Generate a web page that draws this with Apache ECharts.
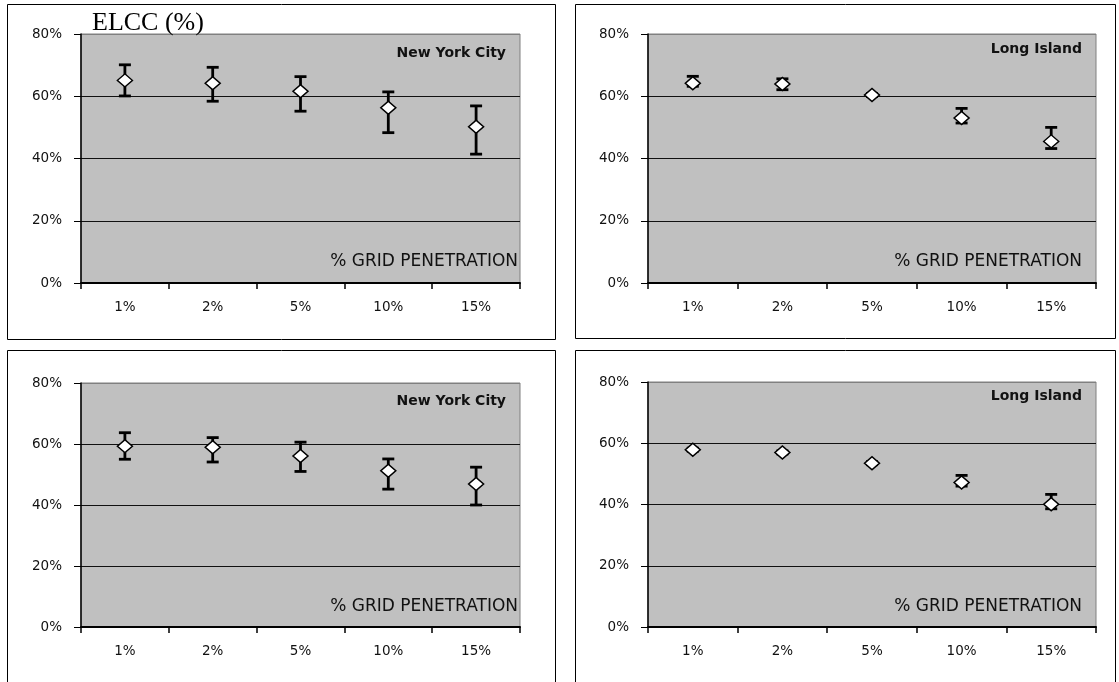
<!DOCTYPE html>
<html>
<head>
<meta charset="utf-8">
<script src="https://cdn.jsdelivr.net/npm/echarts@6/dist/echarts.min.js"></script>
<style>
html,body{margin:0;padding:0;background:#fff;}
#chart{width:1119px;height:682px;}
</style>
</head>
<body>
<div id="chart"></div>
<script>
var categories = ['1%', '2%', '5%', '10%', '15%'];
var yTicks = [0, 20, 40, 60, 80];

var nycTopMean = [65.1, 64.2, 61.6, 56.3, 50.2];
var nycTopLow  = [60.1, 58.4, 55.2, 48.3, 41.4];
var nycTopHigh = [70.1, 69.3, 66.3, 61.4, 56.9];

var liTopMean = [64.2, 63.9, 60.4, 53.0, 45.5];
var liTopLow  = [63.2, 62.1, 59.9, 51.4, 43.2];
var liTopHigh = [66.4, 65.6, 60.9, 56.1, 50.0];

var nycBotMean = [59.3, 58.9, 56.1, 51.2, 46.9];
var nycBotLow  = [55.0, 54.1, 51.0, 45.2, 40.0];
var nycBotHigh = [63.7, 62.1, 60.6, 55.1, 52.4];

var liBotMean = [57.9, 57.0, 53.5, 47.2, 40.1];
var liBotLow  = [57.4, 56.5, 53.0, 46.0, 38.6];
var liBotHigh = [58.4, 57.5, 54.0, 49.5, 43.3];

var panels = [
  {mean: nycTopMean, low: nycTopLow, high: nycTopHigh, name: 'New York City'},
  {mean: liTopMean, low: liTopLow, high: liTopHigh, name: 'Long Island'},
  {mean: nycBotMean, low: nycBotLow, high: nycBotHigh, name: 'New York City'},
  {mean: liBotMean, low: liBotLow, high: liBotHigh, name: 'Long Island'}
];

var gridPos = [
  {left: 81, top: 34, width: 439, height: 249},
  {left: 648, top: 34, width: 448, height: 249},
  {left: 81, top: 383, width: 439, height: 244},
  {left: 648, top: 382, width: 448, height: 245}
];

var FONT = 'DejaVu Sans, Verdana, sans-serif';

var grids = [], xAxes = [], yAxes = [], series = [];
panels.forEach(function (p, i) {
  grids.push({
    left: gridPos[i].left, top: gridPos[i].top,
    width: gridPos[i].width, height: gridPos[i].height,
    show: true, backgroundColor: '#c0c0c0', borderColor: '#808080', borderWidth: 1,
    containLabel: false
  });
  xAxes.push({
    type: 'category', gridIndex: i, data: categories, boundaryGap: true,
    axisLine: {show: true, onZero: false, lineStyle: {color: '#000', width: 2}},
    axisTick: {show: true, inside: false, length: 6, alignWithLabel: false, lineStyle: {color: '#000', width: 1.5}},
    axisLabel: {color: '#111', fontSize: 13.5, fontFamily: FONT, margin: 17},
    splitLine: {show: false}
  });
  yAxes.push({
    type: 'value', gridIndex: i, min: 0, max: 80, interval: 20,
    axisLine: {show: true, lineStyle: {color: '#000', width: 1.5}},
    axisTick: {show: true, inside: false, length: 7, lineStyle: {color: '#000', width: 1}},
    axisLabel: {color: '#111', fontSize: 13.5, fontFamily: FONT, margin: 19, formatter: '{value}%'},
    splitLine: {show: true, lineStyle: {color: ['#000', '#111', '#111', '#111', '#808080'], width: 1}}
  });
  var errData = categories.map(function (c, k) { return [k, p.low[k], p.high[k]]; });
  series.push({
    type: 'custom', xAxisIndex: i, yAxisIndex: i, z: 3,
    data: errData,
    renderItem: function (params, api) {
      var x = api.value(0);
      var lo = api.coord([x, api.value(1)]);
      var hi = api.coord([x, api.value(2)]);
      var hw = 6;
      var st = {stroke: '#000', lineWidth: 2.8};
      return {
        type: 'group',
        children: [
          {type: 'line', shape: {x1: lo[0], y1: lo[1], x2: hi[0], y2: hi[1]}, style: st},
          {type: 'line', shape: {x1: lo[0] - hw, y1: lo[1], x2: lo[0] + hw, y2: lo[1]}, style: st},
          {type: 'line', shape: {x1: hi[0] - hw, y1: hi[1], x2: hi[0] + hw, y2: hi[1]}, style: st}
        ]
      };
    }
  });
  series.push({
    type: 'scatter', xAxisIndex: i, yAxisIndex: i, z: 5,
    data: p.mean,
    symbol: 'diamond', symbolSize: [15, 13],
    itemStyle: {color: '#fff', borderColor: '#000', borderWidth: 1.5, opacity: 1}
  });
});

var titleStyle = {color: '#111', fontSize: 14, fontWeight: 'bold', fontFamily: FONT};
var noteStyle = {color: '#111', fontSize: 17, fontWeight: 'normal', fontFamily: FONT};

var titles = [
  {text: 'ELCC (%)', left: 92, top: 10, textStyle: {color: '#000', fontSize: 26, fontWeight: 'normal', fontFamily: 'Liberation Serif, Times New Roman, serif'}},
  {text: 'New York City', right: 1119 - 506, top: 46, textStyle: titleStyle},
  {text: 'Long Island', right: 1119 - 1082, top: 42, textStyle: titleStyle},
  {text: 'New York City', right: 1119 - 506, top: 394, textStyle: titleStyle},
  {text: 'Long Island', right: 1119 - 1082, top: 389, textStyle: titleStyle},
  {text: '% GRID PENETRATION', right: 1119 - 518, top: 253, textStyle: noteStyle},
  {text: '% GRID PENETRATION', right: 1119 - 1082, top: 253, textStyle: noteStyle},
  {text: '% GRID PENETRATION', right: 1119 - 518, top: 598, textStyle: noteStyle},
  {text: '% GRID PENETRATION', right: 1119 - 1082, top: 598, textStyle: noteStyle}
];
titles.forEach(function (t) { t.padding = 0; t.z = 10; });

var frames = [
  {x: 7.5, y: 4.5, width: 548, height: 335},
  {x: 575.5, y: 4.5, width: 540, height: 334},
  {x: 7.5, y: 350.5, width: 548, height: 345},
  {x: 575.5, y: 350.5, width: 540, height: 345}
];

var chart = echarts.init(document.getElementById('chart'), null, {renderer: 'canvas'});
chart.setOption({
  animation: false,
  backgroundColor: '#fff',
  title: titles,
  grid: grids,
  xAxis: xAxes,
  yAxis: yAxes,
  series: series,
  graphic: frames.map(function (f) {
    return {type: 'rect', shape: f, style: {fill: 'none', stroke: '#000', lineWidth: 1}, z: -1, silent: true};
  })
});
</script>
</body>
</html>
